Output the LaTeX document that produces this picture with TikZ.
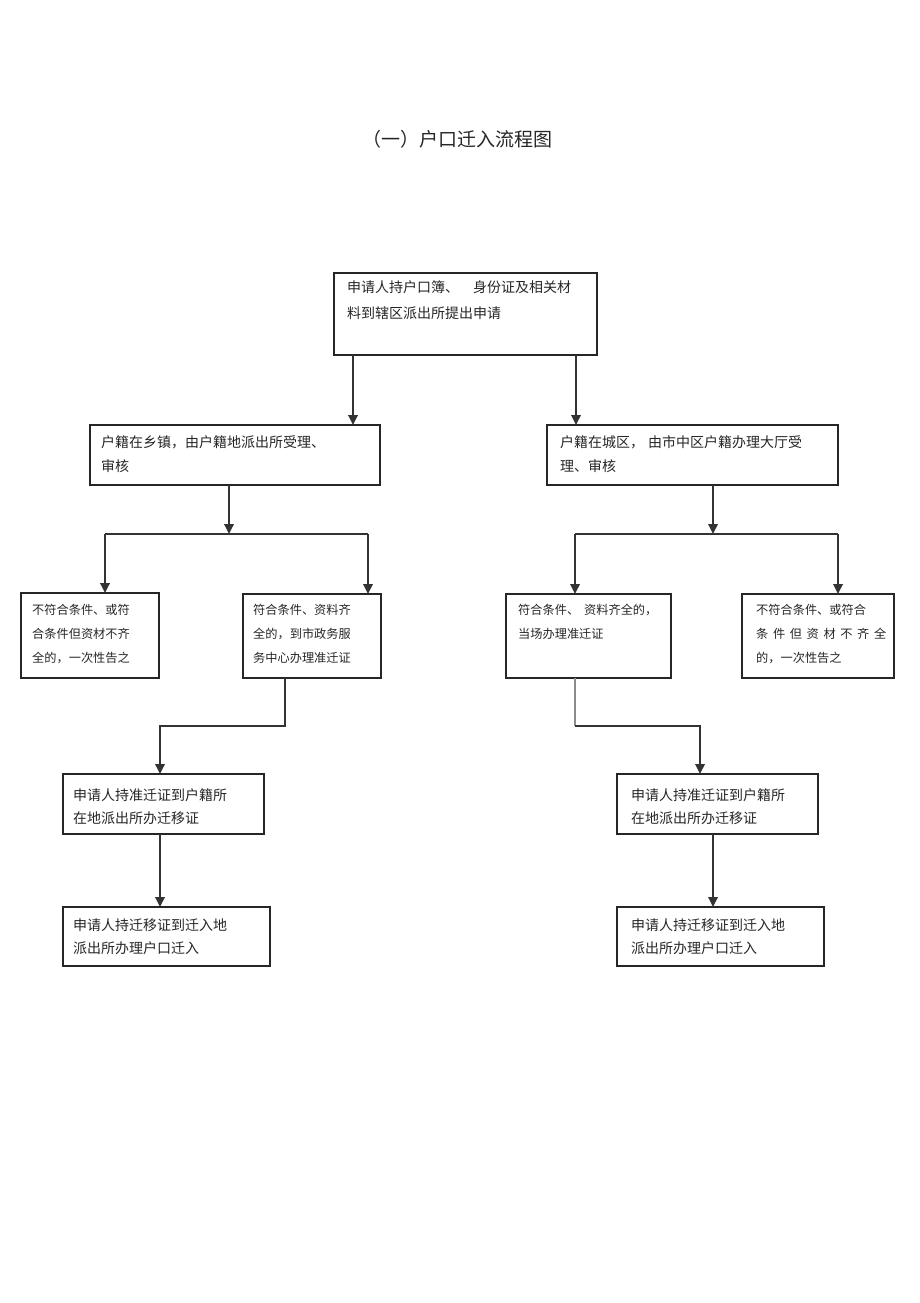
\documentclass[tikz,border=0pt]{standalone}
\usepackage{fontspec}
\newfontfamily\cjk{Noto Sans CJK SC}
\usetikzlibrary{arrows.meta}
\begin{document}
\begin{tikzpicture}[x=1pt,y=-1pt,
  box/.style={draw=black!85, line width=1.3pt, anchor=north west, inner sep=0pt, outer sep=0pt},
  txt/.style={anchor=north west, inner sep=0pt, align=left, text=black!85, font=\cjk\fontsize{14}{24}\selectfont},
  ttxt/.style={txt, font=\cjk\fontsize{14}{26}\selectfont},
  stxt/.style={txt, font=\cjk\fontsize{12.2}{24}\selectfont},
  ltxt/.style={txt, font=\cjk\fontsize{14}{23}\selectfont},
  conn/.style={draw=black!80, line width=1.8pt},
  arr/.style={conn, -{Triangle[width=9.5pt,length=10pt]}},
]
\fill[white] (0,0) rectangle (920,1303);
\useasboundingbox (0,0) rectangle (920,1303);

% title
\node[font=\cjk\fontsize{19}{22}\selectfont, text=black!85] (title) at (457,139) {（一）户口迁入流程图};

% boxes
\node[box, minimum width=263pt, minimum height=82pt] (top) at (334,273) {};
\node[box, minimum width=290pt, minimum height=60pt] (b2l) at (90,425) {};
\node[box, minimum width=291pt, minimum height=60pt] (b2r) at (547,425) {};
\node[box, minimum width=138pt, minimum height=85pt] (c3a) at (21,593) {};
\node[box, minimum width=138pt, minimum height=84pt] (c3b) at (243,594) {};
\node[box, minimum width=165pt, minimum height=84pt] (c3c) at (506,594) {};
\node[box, minimum width=152pt, minimum height=84pt] (c3d) at (742,594) {};
\node[box, minimum width=201pt, minimum height=60pt] (b4l) at (63,774) {};
\node[box, minimum width=201pt, minimum height=60pt] (b4r) at (617,774) {};
\node[box, minimum width=207pt, minimum height=59pt] (b5l) at (63,907) {};
\node[box, minimum width=207pt, minimum height=59pt] (b5r) at (617,907) {};

% texts
\node[ttxt] (ttop) at (347,280) {申请人持户口簿、\hspace{14pt}身份证及相关材\\料到辖区派出所提出申请};
\node[txt] (tb2l) at (101,435) {户籍在乡镇，由户籍地派出所受理、\\审核};
\node[txt] (tb2r) at (560,435) {户籍在城区，\hspace{4pt}由市中区户籍办理大厅受\\理、审核};
\node[stxt] (tc3a) at (32,604) {不符合条件、或符\\合条件但资材不齐\\全的，一次性告之};
\node[stxt] (tc3b) at (253,604) {符合条件、资料齐\\全的，到市政务服\\务中心办理准迁证};
\node[stxt] (tc3c) at (518,604) {符合条件、\hspace{5pt}资料齐全的，\\当场办理准迁证};
\node[stxt] (tc3d) at (756,604) {不符合条件、或符合\\\hbox to 130pt{条\hfil 件\hfil 但\hfil 资\hfil 材\hfil 不\hfil 齐\hfil 全}\\的，一次性告之};
\node[ltxt] (tb4l) at (73,788) {申请人持准迁证到户籍所\\在地派出所办迁移证};
\node[ltxt] (tb4r) at (631,788) {申请人持准迁证到户籍所\\在地派出所办迁移证};
\node[ltxt] (tb5l) at (73,919) {申请人持迁移证到迁入地\\派出所办理户口迁入};
\node[ltxt] (tb5r) at (631,919) {申请人持迁移证到迁入地\\派出所办理户口迁入};

% connector points
\coordinate (k1) at (353,0);
\coordinate (k2) at (576,0);
\coordinate (k3) at (229,534);
\coordinate (k4) at (713,534);
\coordinate (hl) at (105,534);
\coordinate (hr) at (368,534);
\coordinate (hl2) at (575,534);
\coordinate (hr2) at (838,534);
\coordinate (k5) at (285,726);
\coordinate (k6) at (160,726);
\coordinate (k7) at (575,726);
\coordinate (k8) at (700,726);
\coordinate (k9) at (160,0);
\coordinate (k10) at (713,0);

% connectors
\draw[arr] (top.south -| k1) -- (b2l.north -| k1);
\draw[arr] (top.south -| k2) -- (b2r.north -| k2);
\draw[arr] (b2l.south -| k3) -- (k3);
\draw[conn] (hl) -- (hr);
\draw[arr] (hl) -- (c3a.north -| hl);
\draw[arr] (hr) -- (c3b.north -| hr);
\draw[arr] (b2r.south -| k4) -- (k4);
\draw[conn] (hl2) -- (hr2);
\draw[arr] (hl2) -- (c3c.north -| hl2);
\draw[arr] (hr2) -- (c3d.north -| hr2);
\draw[arr] (c3b.south -| k5) -- (k5) -- (k6) -- (b4l.north -| k6);
\draw[conn, draw=black!45] (c3c.south -| k7) -- (k7);
\draw[arr] (k7) -- (k8) -- (b4r.north -| k8);
\draw[arr] (b4l.south -| k9) -- (b5l.north -| k9);
\draw[arr] (b4r.south -| k10) -- (b5r.north -| k10);
\end{tikzpicture}
\end{document}
